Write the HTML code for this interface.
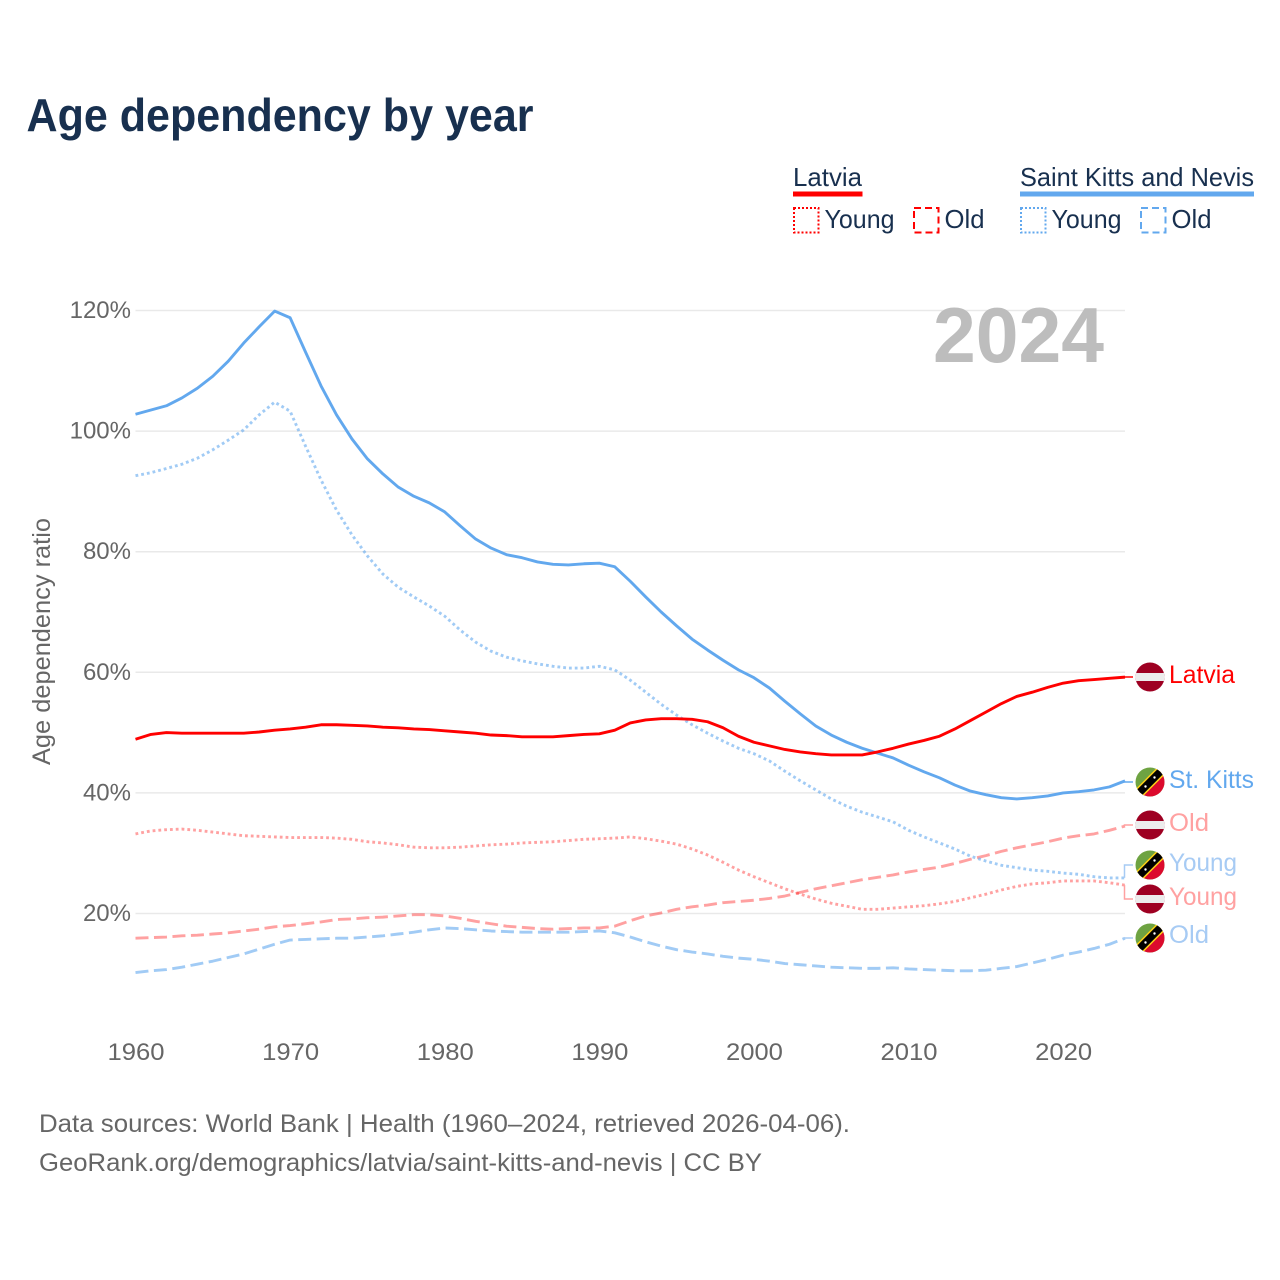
<!DOCTYPE html>
<html lang="en">
<head>
<meta charset="utf-8">
<title>Age dependency by year</title>
<style>
html,body{margin:0;padding:0;background:#fff;}
svg{display:block;font-family:"Liberation Sans",sans-serif;}
.legend{font-size:26px;fill:#18304f;}
.tick{font-size:24px;fill:#666;}
.foot{font-size:25px;fill:#666;}
</style>
</head>
<body>
<svg id="chart" width="1280" height="1280" viewBox="0 0 1280 1280" xmlns="http://www.w3.org/2000/svg">
<defs>
<clipPath id="flag-clip"><circle cx="0" cy="0" r="14.5"/></clipPath>
<g id="flag-lv" clip-path="url(#flag-clip)">
<rect x="-15" y="-15" width="30" height="30" fill="#9e0022"/>
<rect x="-15" y="-4" width="30" height="8" fill="#ececec"/>
</g>
<g id="flag-kn" clip-path="url(#flag-clip)">
<rect x="-15" y="-15" width="30" height="30" fill="#6ea342"/>
<polygon points="15,-15 15,15 -15,15" fill="#dc0a2d"/>
<line x1="-15" y1="15" x2="15" y2="-15" stroke="#fcd116" stroke-width="10.5"/>
<line x1="-15" y1="15" x2="15" y2="-15" stroke="#000" stroke-width="7.5"/>
<circle cx="-4.5" cy="4.5" r="1.2" fill="#fff"/>
<circle cx="4.5" cy="-4.5" r="1.2" fill="#fff"/>
</g>
</defs>

<text x="26.500" y="131" font-size="46" font-weight="700" fill="#18304f" textLength="507" lengthAdjust="spacingAndGlyphs">Age dependency by year</text>

<g>
<text class="legend" x="793" y="186" textLength="69" lengthAdjust="spacingAndGlyphs">Latvia</text>
<rect x="793" y="191.500" width="69.500" height="5" fill="#ff0000"/>
<text class="legend" x="1020" y="186" textLength="234" lengthAdjust="spacingAndGlyphs">Saint Kitts and Nevis</text>
<rect x="1020" y="191.500" width="234" height="5" fill="#62a8ee"/>

<rect x="794" y="208" width="24.500" height="24.500" fill="none" stroke="#ff0000" stroke-width="2" stroke-dasharray="2 2"/>
<text class="legend" x="824.500" y="228" textLength="70" lengthAdjust="spacingAndGlyphs">Young</text>
<rect x="914" y="208" width="24.500" height="24.500" fill="none" stroke="#ff0000" stroke-width="2" stroke-dasharray="7 4"/>
<text class="legend" x="944.500" y="228" textLength="40" lengthAdjust="spacingAndGlyphs">Old</text>

<rect x="1021" y="208" width="24.500" height="24.500" fill="none" stroke="#62a8ee" stroke-width="2" stroke-dasharray="2 2"/>
<text class="legend" x="1051.500" y="228" textLength="70" lengthAdjust="spacingAndGlyphs">Young</text>
<rect x="1141" y="208" width="24.500" height="24.500" fill="none" stroke="#62a8ee" stroke-width="2" stroke-dasharray="7 4"/>
<text class="legend" x="1171.500" y="228" textLength="40" lengthAdjust="spacingAndGlyphs">Old</text>
</g>

<g id="grid"></g>

<text x="933" y="362" font-size="78" font-weight="700" fill="#bdbdbd" textLength="171" lengthAdjust="spacingAndGlyphs">2024</text>

<g id="y-ticks"></g>
<g id="x-ticks"></g>

<text transform="translate(50,765) rotate(-90)" font-size="25" fill="#666" textLength="247" lengthAdjust="spacingAndGlyphs">Age dependency ratio</text>

<g id="series"></g>
<g id="connectors"></g>

<g>
<use href="#flag-lv" transform="translate(1150,677)"/>
<text x="1169" y="683" font-size="25" fill="#ff0000" textLength="66" lengthAdjust="spacingAndGlyphs">Latvia</text>
<use href="#flag-kn" transform="translate(1150,782)"/>
<text x="1169" y="788" font-size="25" fill="#62a8ee" textLength="85" lengthAdjust="spacingAndGlyphs">St. Kitts</text>
<use href="#flag-lv" transform="translate(1150,825)"/>
<text x="1169" y="831" font-size="25" fill="#ffa1a1" textLength="40" lengthAdjust="spacingAndGlyphs">Old</text>
<use href="#flag-kn" transform="translate(1150,865)"/>
<text x="1169" y="871" font-size="25" fill="#a7cbf4" textLength="68" lengthAdjust="spacingAndGlyphs">Young</text>
<use href="#flag-lv" transform="translate(1150,899)"/>
<text x="1169" y="905" font-size="25" fill="#ffa1a1" textLength="68" lengthAdjust="spacingAndGlyphs">Young</text>
<use href="#flag-kn" transform="translate(1150,938)"/>
<text x="1169" y="943" font-size="25" fill="#a7cbf4" textLength="40" lengthAdjust="spacingAndGlyphs">Old</text>
</g>

<text class="foot" x="39" y="1132" textLength="811" lengthAdjust="spacingAndGlyphs">Data sources: World Bank | Health (1960–2024, retrieved 2026-04-06).</text>
<text class="foot" x="39" y="1171" textLength="723" lengthAdjust="spacingAndGlyphs">GeoRank.org/demographics/latvia/saint-kitts-and-nevis | CC BY</text>
</svg>

<script>
var firstYear = 1960;
var lastYear = 2024;
var yTickValues = [20, 40, 60, 80, 100, 120];
var xTickValues = [1960, 1970, 1980, 1990, 2000, 2010, 2020];

var kittsTotal = [102.8,103.5,104.2,105.5,107.1,109.1,111.6,114.6,117.3,119.9,118.8,113.1,107.5,102.7,98.7,95.4,92.9,90.7,89.2,88.1,86.6,84.3,82.1,80.6,79.5,79,78.3,77.9,77.8,78,78.1,77.5,75.1,72.5,70,67.7,65.5,63.7,62,60.4,59.1,57.4,55.2,53.1,51.1,49.6,48.4,47.4,46.6,45.8,44.6,43.5,42.5,41.3,40.3,39.7,39.2,39,39.2,39.5,40,40.2,40.5,41,42];
var latviaTotal = [48.9,49.7,50,49.9,49.9,49.9,49.9,49.9,50.1,50.4,50.6,50.9,51.3,51.3,51.2,51.1,50.9,50.8,50.6,50.5,50.3,50.1,49.9,49.6,49.5,49.3,49.3,49.3,49.5,49.7,49.8,50.4,51.6,52.1,52.3,52.3,52.2,51.8,50.8,49.4,48.4,47.8,47.2,46.8,46.5,46.3,46.3,46.3,46.8,47.4,48.1,48.7,49.4,50.6,52,53.4,54.8,56,56.7,57.5,58.2,58.6,58.8,59,59.2];
var kittsYoung = [92.6,93.1,93.8,94.5,95.5,96.9,98.5,100.2,102.7,104.8,103.3,97.5,91.9,86.9,82.8,79.3,76.3,74.1,72.5,71,69.3,67,65,63.5,62.5,61.9,61.4,61,60.7,60.7,61,60.4,58.7,56.7,54.7,52.9,51.3,49.9,48.6,47.4,46.5,45.3,43.6,42,40.5,39,37.8,36.8,36,35.2,33.8,32.7,31.7,30.7,29.5,28.7,28,27.6,27.2,27,26.7,26.5,26.1,25.9,25.9];
var latviaYoung = [33.2,33.7,33.9,34,33.8,33.5,33.2,32.9,32.8,32.7,32.6,32.6,32.6,32.5,32.3,31.9,31.7,31.4,31,30.9,30.9,31,31.2,31.4,31.5,31.7,31.8,31.9,32.1,32.3,32.4,32.5,32.7,32.4,32,31.5,30.7,29.7,28.5,27.2,26.1,25.1,24.1,23.2,22.4,21.7,21.2,20.7,20.7,20.9,21.1,21.3,21.6,22,22.6,23.2,23.9,24.5,24.9,25.1,25.4,25.4,25.4,25.1,24.7];
var latviaOld = [15.9,16,16.1,16.3,16.4,16.6,16.8,17.1,17.4,17.8,18,18.3,18.6,19,19.1,19.3,19.4,19.6,19.8,19.8,19.6,19.2,18.7,18.3,17.9,17.7,17.5,17.4,17.5,17.6,17.6,17.9,18.8,19.6,20.1,20.7,21.1,21.4,21.8,22,22.2,22.5,22.9,23.5,24.1,24.6,25.1,25.6,26,26.4,26.9,27.3,27.7,28.3,29,29.6,30.3,30.9,31.4,31.9,32.5,32.9,33.2,33.8,34.5];
var kittsOld = [10.2,10.5,10.7,11.1,11.6,12.1,12.7,13.3,14.1,14.9,15.6,15.7,15.8,15.9,15.9,16.1,16.3,16.6,16.9,17.3,17.6,17.5,17.3,17.1,17,16.9,16.9,16.9,16.9,17,17.1,16.8,16.1,15.3,14.6,14,13.6,13.3,12.9,12.6,12.4,12.1,11.7,11.5,11.3,11.1,11,10.9,10.9,11,10.8,10.7,10.6,10.5,10.5,10.6,10.9,11.2,11.8,12.4,13.1,13.6,14.2,14.9,15.9];

var NS = 'http://www.w3.org/2000/svg';
var RED = '#ff0000';
var BLUE = '#62a8ee';
var DOTTED = '2.800 3';
var DASHED = '13 5.500';

function xScale(year) {
  return 135.5 + (year - firstYear) * (1125 - 135.5) / (lastYear - firstYear);
}
function yScale(value) {
  return 913.5 - (value - 20) * 6.03;
}
function make(tag, attrs, parent) {
  var el = document.createElementNS(NS, tag);
  for (var k in attrs) { el.setAttribute(k, attrs[k]); }
  parent.appendChild(el);
  return el;
}

var gridGroup = document.getElementById('grid');
var yTickGroup = document.getElementById('y-ticks');
var xTickGroup = document.getElementById('x-ticks');
var seriesGroup = document.getElementById('series');
var connectorGroup = document.getElementById('connectors');

yTickValues.forEach(function (v) {
  var line = make('line', {x1: xScale(firstYear), x2: xScale(lastYear), y1: yScale(v), y2: yScale(v), stroke: '#e9e9e9', 'stroke-width': 1.5}, gridGroup);
  
  
  var label = make('text', {x: 131, y: yScale(v) + 7.5, 'text-anchor': 'end', 'class': 'tick'}, yTickGroup);
  label.textContent = v + '%';
  
  
});

xTickValues.forEach(function (year) {
  var label = make('text', {x: xScale(year) - 28, y: 1060, 'class': 'tick', textLength: 57, lengthAdjust: 'spacingAndGlyphs'}, xTickGroup);
  label.textContent = String(year);
  
  
});

function pathFor(values) {
  return values.map(function (v, i) {
    return (i ? 'L' : 'M') + xScale(firstYear + i).toFixed(2) + ' ' + yScale(v).toFixed(2);
  }).join(' ');
}

function drawSeries(values, color, opacity, dash, name) {
  var attrs = {d: pathFor(values), fill: 'none', stroke: color, 'stroke-width': 2.9, 'stroke-opacity': opacity, 'stroke-linejoin': 'round'};
  if (dash) { attrs['stroke-dasharray'] = dash; }
  var path = make('path', attrs, seriesGroup);
  
  
}

drawSeries(kittsOld, BLUE, 0.6, DASHED, 'line-saint-kitts-old');
drawSeries(latviaOld, RED, 0.37, DASHED, 'line-latvia-old');
drawSeries(latviaYoung, RED, 0.37, DOTTED, 'line-latvia-young');
drawSeries(kittsYoung, BLUE, 0.6, DOTTED, 'line-saint-kitts-young');
drawSeries(kittsTotal, BLUE, 1, null, 'line-saint-kitts-total');
drawSeries(latviaTotal, RED, 1, null, 'line-latvia-total');

function drawConnector(values, color, flagY, name) {
  var endY = yScale(values[values.length - 1]).toFixed(2);
  var path = make('path', {d: 'M1124.500 ' + endY + ' L1124.500 ' + flagY + ' L1133 ' + flagY, fill: 'none', stroke: color, 'stroke-width': 1.5}, connectorGroup);
  
  
}

drawConnector(latviaTotal, RED, 677, 'connector-latvia-total');
drawConnector(kittsTotal, BLUE, 782, 'connector-saint-kitts-total');
drawConnector(latviaOld, '#ffa1a1', 825, 'connector-latvia-old');
drawConnector(kittsYoung, '#a7cbf4', 865, 'connector-saint-kitts-young');
drawConnector(latviaYoung, '#ffa1a1', 899, 'connector-latvia-young');
drawConnector(kittsOld, '#a7cbf4', 938, 'connector-saint-kitts-old');
</script>
</body>
</html>
